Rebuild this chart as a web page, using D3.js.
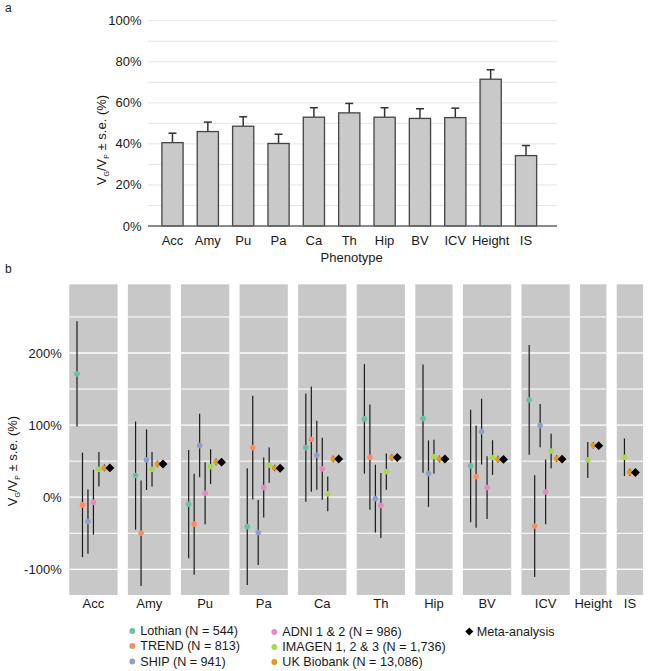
<!DOCTYPE html>
<html>
<head>
<meta charset="utf-8">
<script src="https://cdn.jsdelivr.net/npm/d3@7"></script>
<style>
  html, body { margin: 0; padding: 0; background: #fff; }
  svg { display: block; }
  text { font-family: "Liberation Sans", Arial, Helvetica, sans-serif; fill: #1a1a1a; }
</style>
</head>
<body>
<svg id="chart" width="650" height="671"></svg>
<script>
// ---------------- DATA ----------------
const phenotypes = ["Acc","Amy","Pu","Pa","Ca","Th","Hip","BV","ICV","Height","IS"];
const heritability = [40.6, 46.0, 48.6, 40.2, 53.0, 55.1, 53.0, 52.4, 52.8, 71.5, 34.3];
const heritabilitySE = [4.6, 4.6, 4.6, 4.5, 4.6, 4.6, 4.6, 4.7, 4.6, 4.6, 4.9];
const yTicksA = [0, 20, 40, 60, 80, 100];
const yTicksB = [-100, 0, 100, 200];

const cohorts = ["Lothian","TREND","SHIP","ADNI","IMAGEN","UKB","Meta"];
const cohortLabels = ["Lothian (N = 544)","TREND (N = 813)","SHIP (N = 941)",
  "ADNI 1 & 2 (N = 986)","IMAGEN 1, 2 & 3 (N = 1,736)","UK Biobank (N = 13,086)","Meta-analysis"];
const cohortColors = ["#66c2a5","#fc8d62","#8da0cb","#e78ac3","#a6d854","#e39b1c","#000000"];

const lothian   = [171, 30, -9.7, -40.8, 68.8, 108.6, 109, 43.4, 135, null, null];
const lothianSE = [73, 75, 75, 81, 75, 76, 75, 78, 76, null, null];
const trend     = [-10.7, -50, -37.4, 68.8, 80.4, 55.5, null, 28.6, -40.2, null, null];
const trendSE   = [72.5, 73, 70, 72, 73, 73, null, 71, 70.5, null, null];
const ship      = [-33.8, 52, 71.6, -49, 58.2, -2, 32.7, 91, 99.3, null, null];
const shipSE    = [44.5, 42, 44, 45, 48, 47, 46, 45.6, 30, null, null];
const adni      = [-7, null, 5.5, 13.3, 39.3, -11.6, null, 13.3, 7.4, null, null];
const adniSE    = [45, null, 43, 41.6, 43, 45, null, 43.5, 45, null, null];
const imagen    = [38.8, 38.8, 42.4, 44.4, 4.6, 35.5, 56.3, 55, 64, 51.7, 55.5];
const imagenSE  = [24, 24, 24, 24.5, 24, 25, 23.5, 24, 24, 25, 26];
const ukb       = [40.6, 46.2, 49, 40.6, 53, 55, 53, 52.7, 53.5, 72, 34.7];
const ukbSE     = [4.6, 4.6, 4.6, 4.5, 4.6, 4.6, 4.6, 4.7, 4.6, 4.6, 4.9];
const meta      = heritability;
const metaSE    = heritabilitySE;

const seriesVals = [lothian, trend, ship, adni, imagen, ukb, meta];
const seriesSE   = [lothianSE, trendSE, shipSE, adniSE, imagenSE, ukbSE, metaSE];

// ---------------- DRAW ----------------
const svg = d3.select("#chart");
const FONT = 13;

function yTitle(g, x, y) {
  const t = g.append("text")
    .attr("transform", `translate(${x},${y}) rotate(-90)`)
    .attr("text-anchor", "middle")
    .attr("font-size", FONT);
  t.append("tspan").text("V");
  t.append("tspan").attr("font-size", 7).attr("dy", 3).text("G");
  t.append("tspan").attr("dy", -3).text("/V");
  t.append("tspan").attr("font-size", 7).attr("dy", 3).text("P");
  t.append("tspan").attr("dy", -3).text(" \u00b1 s.e. (%)");
}

// Panel labels
svg.append("text").attr("x", 5).attr("y", 12).attr("font-size", 12).text("a");
svg.append("text").attr("x", 5).attr("y", 273).attr("font-size", 12).text("b");

// ===== Panel a =====
const gA = svg.append("g");
const yA = d3.scaleLinear().domain([0, 100]).range([226, 20.7]);
const xA = d3.scaleBand().domain(phenotypes).range([154.8, 543.7]).paddingInner(0.4).paddingOuter(0.2);
const gridA = d3.range(10, 101, 10);
gA.selectAll("line.grid").data(gridA).join("line")
  .attr("x1", 148).attr("x2", 557)
  .attr("y1", d => yA(d)).attr("y2", d => yA(d))
  .attr("stroke", "#e6e6e6").attr("stroke-width", 1);
gA.selectAll("text.ytick").data(yTicksA).join("text")
  .attr("x", 141.5).attr("y", d => yA(d)).attr("dy", "0.35em")
  .attr("text-anchor", "end").attr("font-size", FONT).text(d => d + "%");
const barData = phenotypes.map((p, i) => ({p, v: heritability[i], se: heritabilitySE[i]}));
// error bars (upper)
gA.selectAll("line.err").data(barData).join("line")
  .attr("x1", d => xA(d.p) + xA.bandwidth()/2).attr("x2", d => xA(d.p) + xA.bandwidth()/2)
  .attr("y1", d => yA(d.v)).attr("y2", d => yA(d.v + d.se))
  .attr("stroke", "#333").attr("stroke-width", 1.5);
gA.selectAll("line.cap").data(barData).join("line")
  .attr("x1", d => xA(d.p) + xA.bandwidth()/2 - 4).attr("x2", d => xA(d.p) + xA.bandwidth()/2 + 4)
  .attr("y1", d => yA(d.v + d.se)).attr("y2", d => yA(d.v + d.se))
  .attr("stroke", "#333").attr("stroke-width", 1.5);
gA.selectAll("rect.bar").data(barData).join("rect")
  .attr("x", d => xA(d.p)).attr("width", xA.bandwidth())
  .attr("y", d => yA(d.v)).attr("height", d => yA(0) - yA(d.v))
  .attr("fill", "#c9c9c9").attr("stroke", "#444").attr("stroke-width", 1.3);
gA.append("line").attr("x1", 148).attr("x2", 557).attr("y1", yA(0)).attr("y2", yA(0))
  .attr("stroke", "#666").attr("stroke-width", 1.3);
gA.selectAll("text.xlab").data(phenotypes).join("text")
  .attr("x", d => xA(d) + xA.bandwidth()/2).attr("y", 245)
  .attr("text-anchor", "middle").attr("font-size", FONT).text(d => d);
gA.append("text").attr("x", 351.7).attr("y", 262).attr("text-anchor", "middle")
  .attr("font-size", FONT).text("Phenotype");
yTitle(gA, 106, 140);

// ===== Panel b =====
const gB = svg.append("g");
const yB = d3.scaleLinear().domain([-100, 200]).range([569.3, 353]);
const panelTop = 284.3, panelBottom = 595;
const unit = 5.48, pad = 7.7, gap = 10.3;
let cursor = 69.3;
const facets = phenotypes.map((p, i) => {
  const present = cohorts.filter((c, k) => seriesVals[k][i] !== null);
  const w = 2 * pad + (present.length - 1) * unit;
  const f = {p, i, present, left: cursor, width: w};
  f.x = d3.scalePoint().domain(present).range([cursor + pad, cursor + w - pad]);
  cursor += w + gap;
  return f;
});
const gridMinor = [-50, 50, 150, 250];
facets.forEach(f => {
  const g = gB.append("g");
  g.append("rect").attr("x", f.left).attr("y", panelTop)
    .attr("width", f.width).attr("height", panelBottom - panelTop).attr("fill", "#c8c8c8");
  g.selectAll("line.minor").data(gridMinor).join("line")
    .attr("x1", f.left).attr("x2", f.left + f.width)
    .attr("y1", d => yB(d)).attr("y2", d => yB(d))
    .attr("stroke", "#fff").attr("stroke-width", 1);
  g.selectAll("line.major").data(yTicksB).join("line")
    .attr("x1", f.left).attr("x2", f.left + f.width)
    .attr("y1", d => yB(d)).attr("y2", d => yB(d))
    .attr("stroke", "#fff").attr("stroke-width", 1.3);
  const pts = f.present.map(c => {
    const k = cohorts.indexOf(c);
    return {c, k, v: seriesVals[k][f.i], se: seriesSE[k][f.i]};
  });
  g.selectAll("line.eb").data(pts).join("line")
    .attr("x1", d => f.x(d.c)).attr("x2", d => f.x(d.c))
    .attr("y1", d => yB(d.v + d.se)).attr("y2", d => yB(d.v - d.se))
    .attr("stroke", "#1a1a1a").attr("stroke-width", 1.2);
  g.selectAll("circle.pt").data(pts.filter(d => d.c !== "Meta")).join("circle")
    .attr("cx", d => f.x(d.c)).attr("cy", d => yB(d.v)).attr("r", 2.8)
    .attr("fill", d => cohortColors[d.k]);
  const m = pts.find(d => d.c === "Meta");
  g.append("path")
    .attr("d", d3.symbol(d3.symbolDiamond2, 50)())
    .attr("transform", `translate(${f.x("Meta")},${yB(m.v)})`)
    .attr("fill", "#000");
  g.append("text").attr("x", f.left + f.width/2).attr("y", 608)
    .attr("text-anchor", "middle").attr("font-size", FONT).text(f.p);
});
gB.selectAll("text.ytick").data(yTicksB).join("text")
  .attr("x", 61.7).attr("y", d => yB(d)).attr("dy", "0.35em")
  .attr("text-anchor", "end").attr("font-size", FONT).text(d => d + "%");
yTitle(gB, 17, 461);

// ===== Legend =====
const legend = svg.append("g");
const legX = [132.3, 132.3, 132.3, 274.3, 274.3, 274.3, 469.3];
const legY = [631, 646, 661.5, 632, 647, 662, 631.5];
cohorts.forEach((c, k) => {
  if (c === "Meta") {
    legend.append("path").attr("d", d3.symbol(d3.symbolDiamond2, 42)())
      .attr("transform", `translate(${legX[k]},${legY[k]})`).attr("fill", "#000");
  } else {
    legend.append("circle").attr("cx", legX[k]).attr("cy", legY[k]).attr("r", 2.9)
      .attr("fill", cohortColors[k]);
  }
  legend.append("text").attr("x", legX[k] + (c === "Meta" ? 7.5 : 8)).attr("y", legY[k])
    .attr("dy", "0.35em").attr("font-size", 12.6).text(cohortLabels[k]);
});
</script>
</body>
</html>
